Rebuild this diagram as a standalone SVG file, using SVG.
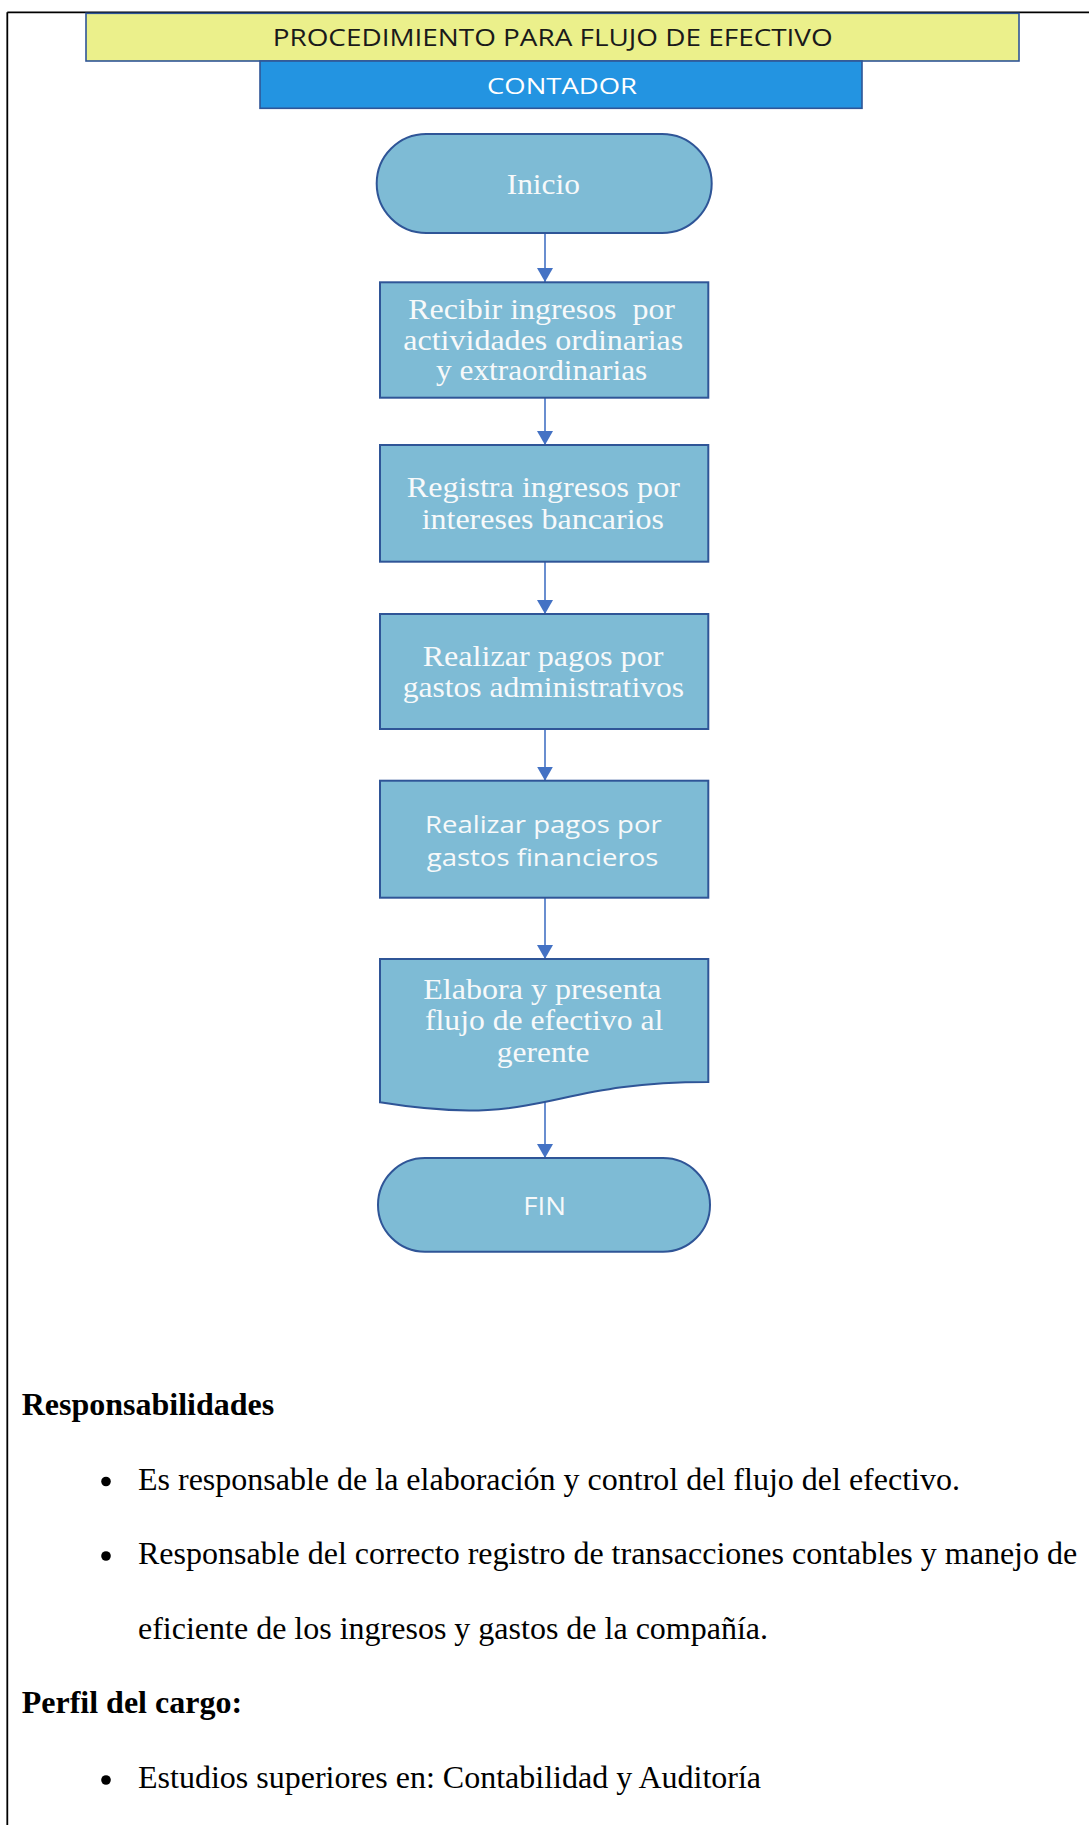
<svg xmlns="http://www.w3.org/2000/svg" width="1089" height="1825" viewBox="0 0 1089 1825">
  <style>
    .node { fill: #7EBBD5; stroke: #2F5597; stroke-width: 2; }
    .serifW { font-family: "Liberation Serif", "Times New Roman", serif; font-size: 29px; fill: #F7F9FA; }
    .sansW { font-family: "Open Sans", "Liberation Sans", sans-serif; font-size: 24px; fill: #F7F9FA; }
    .conn { stroke: #4472C4; stroke-width: 1.6; fill: none; }
    .body { font-family: "Liberation Serif", "Times New Roman", serif; font-size: 32px; fill: #000000; }
    .bold { font-weight: bold; }
    .bullet { fill: #000000; }
  </style>
  <defs>
    <marker id="arrow" markerUnits="userSpaceOnUse" viewBox="0 0 14 16" refX="14" refY="8" markerWidth="14" markerHeight="16" orient="auto">
      <path d="M0,0 L14,8 L0,16 Z" fill="#4472C4"/>
    </marker>
  </defs>

  <rect width="1089" height="1825" fill="#FFFFFF"/>

  <!-- page border -->
  <g id="page-border" fill="none" stroke="#000000" stroke-width="1.8">
    <line x1="7.3" y1="12.3" x2="1089" y2="12.3"/>
    <line x1="7.3" y1="12.3" x2="7.3" y2="1825"/>
  </g>

  <!-- header -->
  <g id="title">
    <rect x="86" y="13.3" width="933" height="47.7" fill="#EBF08B" stroke="#2F5597" stroke-width="1.6"/>
    <text x="272.7" y="45.7" textLength="560" lengthAdjust="spacingAndGlyphs" font-family="Open Sans, Liberation Sans, sans-serif" font-size="23" fill="#1A1A1A">PROCEDIMIENTO PARA FLUJO DE EFECTIVO</text>
  </g>
  <g id="contador">
    <rect x="260" y="61" width="602" height="47.3" fill="#2394E1" stroke="#2F5597" stroke-width="1.6"/>
    <text x="487" y="94.3" textLength="150" lengthAdjust="spacingAndGlyphs" font-family="Open Sans, Liberation Sans, sans-serif" font-size="22" fill="#FFFFFF">CONTADOR</text>
  </g>

  <!-- connectors -->
  <g id="connectors">
    <line class="conn" x1="545" y1="233" x2="545" y2="282" marker-end="url(#arrow)"/>
    <line class="conn" x1="545" y1="397.7" x2="545" y2="445" marker-end="url(#arrow)"/>
    <line class="conn" x1="545" y1="561.7" x2="545" y2="614" marker-end="url(#arrow)"/>
    <line class="conn" x1="545" y1="729" x2="545" y2="780.7" marker-end="url(#arrow)"/>
    <line class="conn" x1="545" y1="897.7" x2="545" y2="959" marker-end="url(#arrow)"/>
    <line class="conn" x1="545" y1="1102" x2="545" y2="1158" marker-end="url(#arrow)"/>
  </g>

  <!-- nodes -->
  <g id="inicio">
    <rect class="node" x="376.7" y="134" width="335" height="99" rx="49.5" ry="49.5"/>
    <text class="serifW" x="506.7" y="194" textLength="73.3" lengthAdjust="spacingAndGlyphs">Inicio</text>
  </g>

  <g id="recibir-ingresos">
    <rect class="node" x="380" y="282.3" width="328.3" height="115.4"/>
    <text class="serifW" x="408.3" y="319" textLength="266.7" lengthAdjust="spacingAndGlyphs" xml:space="preserve">Recibir ingresos  por</text>
    <text class="serifW" x="403.3" y="350" textLength="280" lengthAdjust="spacingAndGlyphs">actividades ordinarias</text>
    <text class="serifW" x="436" y="379.8" textLength="211.3" lengthAdjust="spacingAndGlyphs">y extraordinarias</text>
  </g>

  <g id="registra-ingresos">
    <rect class="node" x="380" y="445" width="328.3" height="116.7"/>
    <text class="serifW" x="406.7" y="497.3" textLength="273.3" lengthAdjust="spacingAndGlyphs">Registra ingresos por</text>
    <text class="serifW" x="421.7" y="529.3" textLength="242.3" lengthAdjust="spacingAndGlyphs">intereses bancarios</text>
  </g>

  <g id="pagos-administrativos">
    <rect class="node" x="380" y="614" width="328.3" height="115"/>
    <text class="serifW" x="422.7" y="666" textLength="240.7" lengthAdjust="spacingAndGlyphs">Realizar pagos por</text>
    <text class="serifW" x="402.7" y="697.3" textLength="281.3" lengthAdjust="spacingAndGlyphs">gastos administrativos</text>
  </g>

  <g id="pagos-financieros">
    <rect class="node" x="380" y="780.7" width="328.3" height="117"/>
    <text class="sansW" x="425" y="832.7" textLength="236.7" lengthAdjust="spacingAndGlyphs">Realizar pagos por</text>
    <text class="sansW" x="426.7" y="866" textLength="231.7" lengthAdjust="spacingAndGlyphs">gastos financieros</text>
  </g>

  <g id="elabora-flujo">
    <path class="node" d="M380,959 H708.3 V1082 C544,1082 544,1128.9 380,1102.3 Z"/>
    <text class="serifW" x="423.3" y="999.3" textLength="238.3" lengthAdjust="spacingAndGlyphs">Elabora y presenta</text>
    <text class="serifW" x="425" y="1030" textLength="238.3" lengthAdjust="spacingAndGlyphs">flujo de efectivo al</text>
    <text class="serifW" x="496.7" y="1061.7" textLength="92.7" lengthAdjust="spacingAndGlyphs">gerente</text>
  </g>

  <g id="fin">
    <rect class="node" x="378" y="1158" width="332" height="93.7" rx="47" ry="46.8"/>
    <text class="sansW" x="523.3" y="1215" textLength="42.7" lengthAdjust="spacingAndGlyphs" style="font-size:25px">FIN</text>
  </g>

  <!-- text section -->
  <g id="responsabilidades">
    <text class="body bold" x="21.7" y="1415">Responsabilidades</text>
    <circle class="bullet" cx="106" cy="1481.5" r="4.8"/>
    <text class="body" x="138" y="1489.5">Es responsable de la elaboración y control del flujo del efectivo.</text>
    <circle class="bullet" cx="106" cy="1556" r="4.8"/>
    <text class="body" x="138" y="1564">Responsable del correcto registro de transacciones contables y manejo de</text>
    <text class="body" x="138" y="1638.5">eficiente de los ingresos y gastos de la compañía.</text>
  </g>

  <g id="perfil">
    <text class="body bold" x="21.7" y="1713">Perfil del cargo:</text>
    <circle class="bullet" cx="106" cy="1780" r="4.8"/>
    <text class="body" x="138" y="1787.5">Estudios superiores en: Contabilidad y Auditoría</text>
  </g>
</svg>
